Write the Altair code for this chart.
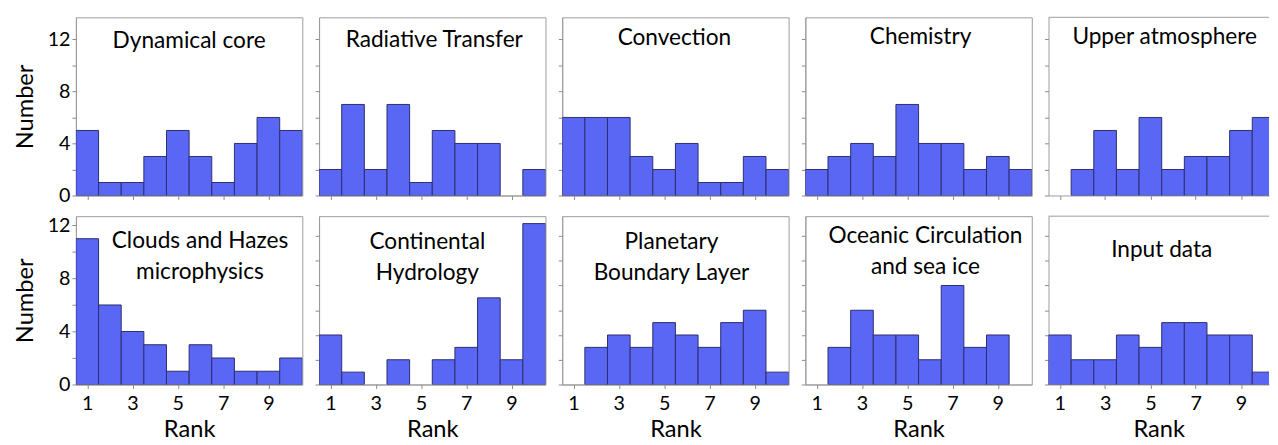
import altair as alt
import pandas as pd

ranks = list(range(1, 11))
title_lines = [
    ["Dynamical core"], ["Radiative Transfer"], ["Convection"], ["Chemistry"], ["Upper atmosphere"],
    ["Clouds and Hazes", "microphysics"], ["Continental", "Hydrology"], ["Planetary", "Boundary Layer"],
    ["Oceanic Circulation", "and sea ice"], ["Input data"],
]
dynamical = [5, 1, 1, 3, 5, 3, 1, 4, 6, 5]
radiative = [2, 7, 2, 7, 1, 5, 4, 4, 0, 2]
convection = [6, 6, 6, 3, 2, 4, 1, 1, 3, 2]
chemistry = [2, 3, 4, 3, 7, 4, 4, 2, 3, 2]
upper = [0, 2, 5, 2, 6, 2, 3, 3, 5, 6]
clouds = [11, 6, 4, 3, 1, 3, 2, 1, 1, 2]
continental = [4, 1, 0, 2, 0, 2, 3, 7, 2, 13]
pbl = [0, 3, 4, 3, 5, 4, 3, 5, 6, 1]
oceanic = [0, 3, 6, 4, 4, 2, 8, 3, 4, 0]
input_data = [4, 2, 2, 4, 3, 5, 5, 4, 4, 1]
series = [dynamical, radiative, convection, chemistry, upper,
          clouds, continental, pbl, oceanic, input_data]

x_ticks = [1, 3, 5, 7, 9]
y_ticks = [0, 2, 4, 6, 8, 10, 12]

# layout / style (not data)
y_max = [13.7, 13.7, 13.7, 13.7, 13.7, 12.7, 13.6, 13.6, 13.6, 13.6]
title_pos = [(115, 31), (117, 30), (114, 28), (117, 27), (118, 27),
             (126, 32), (110, 33), (111, 33), (122, 27), (115, 41)]
BAR = "#5a66f4"
EDGE = "#2c2f6e"
BORDER = "#9a9a9a"
FONT = "Lato"


def panel(i):
    row, col = divmod(i, 5)
    last = col == 4
    w = 224 if last else 230
    h = 181 if row == 0 else 171
    xmax = 0.5 + w / 23.0 if last else 10.5
    df = pd.DataFrame({"rank": ranks, "count": series[i]})

    x_axis = alt.Axis(values=x_ticks, labels=(row == 1), title=("Rank" if row == 1 else None),
                      grid=False, tickSize=4, labelPadding=5, titlePadding=5)
    y_axis = alt.Axis(values=y_ticks, labels=(col == 0),
                      labelExpr="datum.value % 4 == 0 ? datum.label : ''",
                      title=("Number" if col == 0 else None),
                      grid=False, tickSize=4, labelPadding=2, titlePadding=10)

    bars = (
        alt.Chart(df)
        .transform_filter("datum.count > 0")
        .transform_calculate(lo="datum.rank - 0.5", hi="datum.rank + 0.5")
        .mark_bar(color=BAR, stroke=EDGE, strokeWidth=1, clip=True)
        .encode(
            x=alt.X("lo:Q", scale=alt.Scale(domain=[0.5, xmax], nice=False, zero=False), axis=x_axis),
            x2="hi:Q",
            y=alt.Y("count:Q", scale=alt.Scale(domain=[0, y_max[i]], nice=False), axis=y_axis),
            y2=alt.datum(0),
        )
    )
    tx, ty = title_pos[i]
    text = (
        alt.Chart(pd.DataFrame({"k": [0]}))
        .mark_text(text=title_lines[i], font=FONT, fontSize=23, color="black",
                   align="center", baseline="alphabetic", lineHeight=32)
        .encode(x=alt.value(tx), y=alt.value(ty))
    )
    layers = [bars, text]
    if last:
        top = (
            alt.Chart(pd.DataFrame({"k": [0]}))
            .mark_rule(color=BORDER, strokeWidth=1)
            .encode(x=alt.value(0), x2=alt.value(w), y=alt.value(0))
        )
        layers.append(top)
    ch = alt.layer(*layers).properties(width=w, height=h)
    if last:
        ch = ch.properties(view=alt.ViewBackground(strokeOpacity=0))
    return ch


top_row = alt.hconcat(*[panel(i) for i in range(5)], spacing=11)
bottom_row = alt.hconcat(*[panel(i) for i in range(5, 10)], spacing=11)

chart = (
    alt.vconcat(top_row, bottom_row, spacing=8)
    .properties(padding={"left": 5, "top": 5, "right": 0, "bottom": 0})
    .configure_view(stroke=BORDER, strokeWidth=1)
    .configure_axis(
        domainColor=BORDER, tickColor="#888888",
        labelFont=FONT, labelFontSize=20, labelColor="black",
        titleFont=FONT, titleFontSize=24, titleFontWeight="normal", titleColor="black",
    )
)

chart.save("out.html", embed_options={"renderer": "svg", "actions": False})
